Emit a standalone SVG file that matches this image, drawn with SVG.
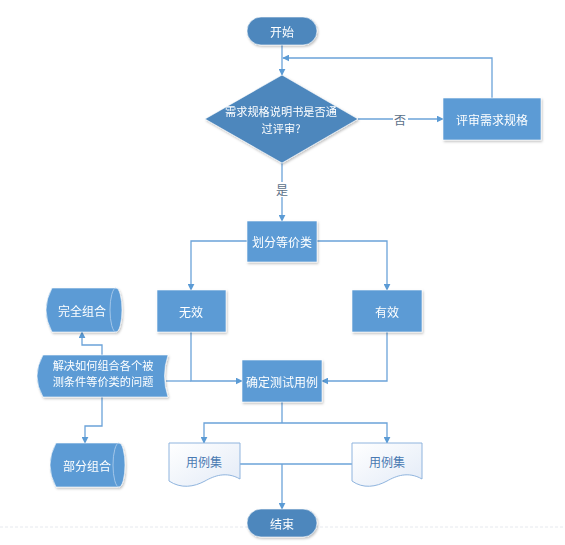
<svg xmlns="http://www.w3.org/2000/svg" width="565" height="545" viewBox="0 0 565 545">
<defs>
<style>
text{font-family:"Noto Sans CJK SC","Liberation Sans",sans-serif;font-size:12px;text-anchor:middle;dominant-baseline:central}
.lt{fill:#ffffff}
.two{font-size:11.2px}
.dt{fill:#4a7ab2}
.box{fill:#5b9bd5;stroke:#ffffff;stroke-width:0.6}
.dark{fill:#4d87bd;stroke:#ffffff;stroke-width:0.6}
.doc{fill:url(#docg);stroke:#8fb4de;stroke-width:1}
.con{fill:none;stroke:#6ba3d9;stroke-width:1.3}
.arr{marker-end:url(#ah)}
.sh{filter:url(#shd)}
</style>
<marker id="ah" viewBox="0 0 10 10" refX="9" refY="5" markerWidth="7" markerHeight="7" markerUnits="userSpaceOnUse" orient="auto">
<path d="M0,0 L10,5 L0,10 Z" fill="#5b9bd5"/>
</marker>
<linearGradient id="docg" x1="0" y1="0" x2="1" y2="1">
<stop offset="0" stop-color="#ffffff"/>
<stop offset="1" stop-color="#e3ebf7"/>
</linearGradient>
<filter id="shd" x="-10%" y="-10%" width="130%" height="130%">
<feDropShadow dx="1" dy="1.5" stdDeviation="1" flood-color="#000000" flood-opacity="0.25"/>
</filter>
</defs>
<rect width="565" height="545" fill="#ffffff"/>
<line x1="0" y1="527" x2="565" y2="527" stroke="#e6e9ee" stroke-width="1" stroke-dasharray="3,2"/>

<g id="connectors">
<path class="con arr" d="M282,45 V75"/>
<path class="con arr" d="M492,98 V58 H283"/>
<path class="con arr" d="M358,119 H443"/>
<path class="con arr" d="M282,163 V221"/>
<path class="con arr" d="M247,241 H191 V290"/>
<path class="con arr" d="M317,241 H387 V290"/>
<path class="con arr" d="M191,332 V381 H242"/>
<path class="con arr" d="M387,332 V381 H322"/>
<path class="con" d="M166,381 H191"/>
<path class="con" d="M282,402 V423"/>
<path class="con arr" d="M282,423 H204 V443"/>
<path class="con arr" d="M282,423 H387 V443"/>
<path class="con" d="M240,464 H352"/>
<path class="con arr" d="M282,464 V509"/>
<path class="con arr" d="M102,356 V345 H82 V332"/>
<path class="con arr" d="M102,397 V426 H85 V443"/>
<rect x="393" y="112" width="15" height="15" fill="#ffffff"/>
<text x="400" y="119.5" style="fill:#5a6f88">否</text>
<rect x="275" y="182" width="15" height="15" fill="#ffffff"/>
<text x="282" y="189.5" style="fill:#5a6f88">是</text>
</g>

<g id="start" class="sh">
<rect class="dark" x="247" y="17" width="70" height="28" rx="14"/>
<text class="lt" x="282" y="31">开始</text>
</g>

<g id="decision" class="sh">
<polygon class="dark" points="282,75 358,119 282,163 205,119"/>
<text class="lt two" x="281" y="111">需求规格说明书是否通</text>
<text class="lt two" x="281" y="127.5">过评审?</text>
</g>

<g id="review" class="sh">
<rect class="box" x="443" y="98" width="98" height="42"/>
<text class="lt" x="492" y="119">评审需求规格</text>
</g>

<g id="partition" class="sh">
<rect class="box" x="247" y="221" width="70" height="41"/>
<text class="lt" x="282" y="241.5">划分等价类</text>
</g>

<g id="invalid" class="sh">
<rect class="box" x="157" y="290" width="69" height="42"/>
<text class="lt" x="191" y="311">无效</text>
</g>

<g id="valid" class="sh">
<rect class="box" x="352" y="290" width="70" height="42"/>
<text class="lt" x="387" y="311">有效</text>
</g>

<g id="determine" class="sh">
<rect class="box" x="242" y="360" width="80" height="42"/>
<text class="lt" x="282" y="381">确定测试用例</text>
</g>

<g id="full" class="sh">
<path class="box" d="M52,288 H116 A6,22 0 0 1 116,332 H52 Q40,310 52,288 Z"/>
<path d="M116,288 A6,22 0 0 0 116,332" fill="none" stroke="#b5d0ee" stroke-width="0.8"/>
<text class="lt" x="82" y="310">完全组合</text>
</g>

<g id="problem" class="sh">
<path class="box" d="M43,355 H168 Q161,376 168,397 H43 Q31,376 43,355 Z"/>
<text class="lt two" x="103" y="364.5">解决如何组合各个被</text>
<text class="lt two" x="103" y="381">测条件等价类的问题</text>
</g>

<g id="partial" class="sh">
<path class="box" d="M56,443 H119 A6,22 0 0 1 119,487 H56 Q44,465 56,443 Z"/>
<path d="M119,443 A6,22 0 0 0 119,487" fill="none" stroke="#b5d0ee" stroke-width="0.8"/>
<text class="lt" x="87" y="465">部分组合</text>
</g>

<g id="caseset1">
<path class="doc" d="M169,443 H240 V479 C226,471 214,476 205,481 C194,487 181,489 169,481 Z"/>
<text class="dt" x="204" y="461">用例集</text>
</g>

<g id="caseset2">
<path class="doc" d="M352,443 H422 V479 C408,471 396,476 387,481 C376,487 363,489 352,481 Z"/>
<text class="dt" x="387" y="461">用例集</text>
</g>

<g id="end" class="sh">
<rect class="dark" x="247" y="509" width="70" height="28" rx="14"/>
<text class="lt" x="282" y="523">结束</text>
</g>
</svg>
